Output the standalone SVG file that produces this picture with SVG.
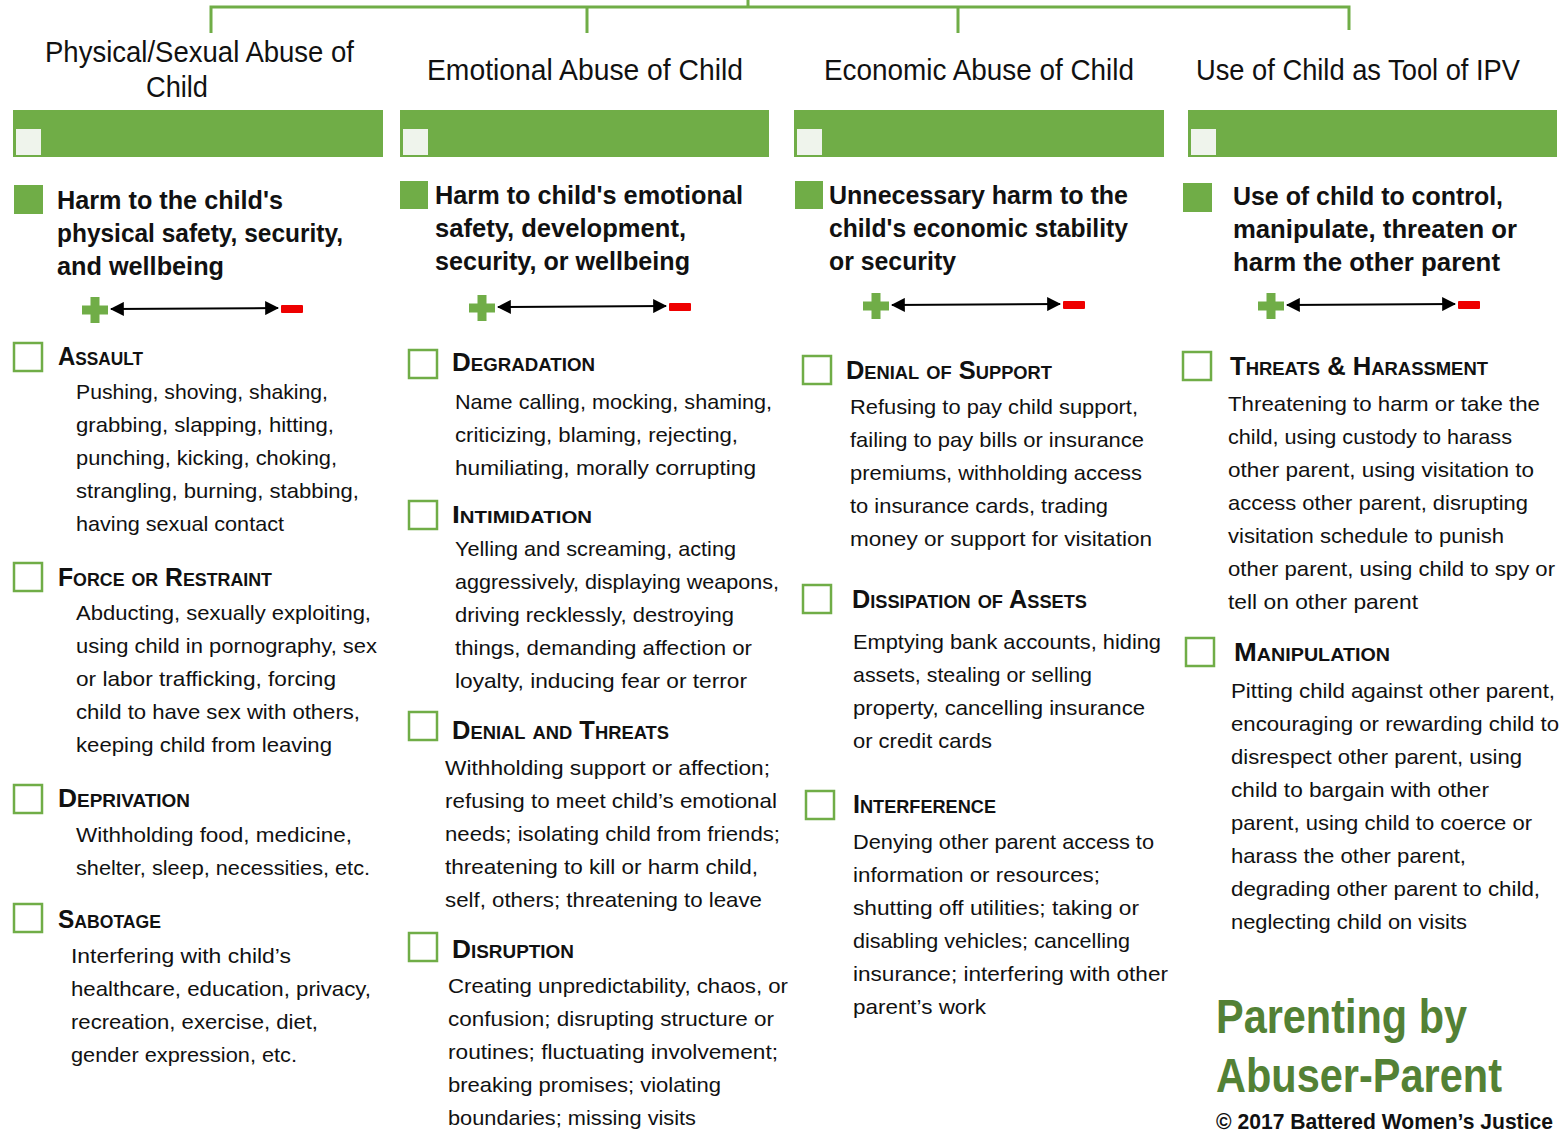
<svg xmlns="http://www.w3.org/2000/svg" width="1565" height="1131" viewBox="0 0 1565 1131">
<style>
text{font-family:"Liberation Sans",Arial,sans-serif;fill:#111}
.hd{font-size:30px}
.bar{fill:#70AD47}
.sq{fill:#EFF4EC}
.bul{fill:#70AD47}
.cb{fill:none;stroke:#70AD47;stroke-width:2.5}
.bh{font-size:26px;font-weight:bold}
.sc{font-size:25px;font-weight:bold;font-variant:small-caps}
.bd{font-size:21px}
.tree{fill:none;stroke:#70AD47;stroke-width:3}
.scale{stroke:#000;stroke-width:2}
.plus{fill:#70AD47}
.minus{fill:#EE0000}
.title{font-size:48px;font-weight:bold;fill:#538135}
.copy{font-size:22px;font-weight:bold}
</style>
<defs>
<marker id="ahb" viewBox="0 0 12 12" refX="11" refY="6" markerWidth="14" markerHeight="14" orient="auto-start-reverse" markerUnits="userSpaceOnUse">
<path d="M0,0 L12,6 L0,12 z" fill="#000"/>
</marker>
<path id="plusShape" d="M-4.5,-13 h9 v8.5 h8.5 v9 h-8.5 v8.5 h-9 v-8.5 h-8.5 v-9 h8.5 z"/>
<clipPath id="clipInt"><rect x="440" y="495" width="200" height="28"/></clipPath>
</defs>

<g id="connectors">
<path class="tree" d="M748,0 V7 M211,33 V7 H1349 V30 M587,7 V33 M958,7 V33"/>
</g>

<!-- Column 1 -->
<g id="col1-header">
<text class="hd" x="45" y="62" textLength="309" lengthAdjust="spacingAndGlyphs">Physical/Sexual Abuse of</text>
<text class="hd" x="146" y="97" textLength="62" lengthAdjust="spacingAndGlyphs">Child</text>
<rect class="bar" x="13" y="110" width="370" height="47"/>
<rect class="sq" x="16" y="129" width="25" height="26"/>
</g>
<g id="col1-title">
<rect class="bul" x="14" y="185" width="29" height="29"/>
<text class="bh" x="57" y="209" textLength="226" lengthAdjust="spacingAndGlyphs">Harm to the child's</text>
<text class="bh" x="57" y="242" textLength="286" lengthAdjust="spacingAndGlyphs">physical safety, security,</text>
<text class="bh" x="57" y="275" textLength="167" lengthAdjust="spacingAndGlyphs">and wellbeing</text>
<use href="#plusShape" class="plus" x="95" y="310"/>
<line class="scale" x1="111" y1="309" x2="278" y2="308" marker-start="url(#ahb)" marker-end="url(#ahb)"/>
<rect class="minus" x="281" y="305" width="22" height="8" rx="1"/>
</g>
<g id="col1-assault">
<rect class="cb" x="14" y="343" width="28" height="28"/>
<text class="sc" x="58" y="365" textLength="85" lengthAdjust="spacingAndGlyphs">Assault</text>
<text class="bd" x="76" y="399" textLength="252" lengthAdjust="spacingAndGlyphs">Pushing, shoving, shaking,</text>
<text class="bd" x="76" y="432" textLength="258" lengthAdjust="spacingAndGlyphs">grabbing, slapping, hitting,</text>
<text class="bd" x="76" y="465" textLength="261" lengthAdjust="spacingAndGlyphs">punching, kicking, choking,</text>
<text class="bd" x="76" y="498" textLength="283" lengthAdjust="spacingAndGlyphs">strangling, burning, stabbing,</text>
<text class="bd" x="76" y="531" textLength="208" lengthAdjust="spacingAndGlyphs">having sexual contact</text>
</g>
<g id="col1-force">
<rect class="cb" x="14" y="563" width="28" height="28"/>
<text class="sc" x="58" y="586" textLength="214" lengthAdjust="spacingAndGlyphs">Force or Restraint</text>
<text class="bd" x="76" y="620" textLength="295" lengthAdjust="spacingAndGlyphs">Abducting, sexually exploiting,</text>
<text class="bd" x="76" y="653" textLength="301" lengthAdjust="spacingAndGlyphs">using child in pornography, sex</text>
<text class="bd" x="76" y="686" textLength="260" lengthAdjust="spacingAndGlyphs">or labor trafficking, forcing</text>
<text class="bd" x="76" y="719" textLength="284" lengthAdjust="spacingAndGlyphs">child to have sex with others,</text>
<text class="bd" x="76" y="752" textLength="256" lengthAdjust="spacingAndGlyphs">keeping child from leaving</text>
</g>
<g id="col1-deprivation">
<rect class="cb" x="14" y="785" width="28" height="28"/>
<text class="sc" x="58" y="807" textLength="132" lengthAdjust="spacingAndGlyphs">Deprivation</text>
<text class="bd" x="76" y="842" textLength="276" lengthAdjust="spacingAndGlyphs">Withholding food, medicine,</text>
<text class="bd" x="76" y="875" textLength="294" lengthAdjust="spacingAndGlyphs">shelter, sleep, necessities, etc.</text>
</g>
<g id="col1-sabotage">
<rect class="cb" x="14" y="904" width="28" height="28"/>
<text class="sc" x="58" y="928" textLength="103" lengthAdjust="spacingAndGlyphs">Sabotage</text>
<text class="bd" x="71" y="963" textLength="220" lengthAdjust="spacingAndGlyphs">Interfering with child’s</text>
<text class="bd" x="71" y="996" textLength="300" lengthAdjust="spacingAndGlyphs">healthcare, education, privacy,</text>
<text class="bd" x="71" y="1029" textLength="247" lengthAdjust="spacingAndGlyphs">recreation, exercise, diet,</text>
<text class="bd" x="71" y="1062" textLength="226" lengthAdjust="spacingAndGlyphs">gender expression, etc.</text>
</g>

<!-- Column 2 -->
<g id="col2-header">
<text class="hd" x="427" y="80" textLength="316" lengthAdjust="spacingAndGlyphs">Emotional Abuse of Child</text>
<rect class="bar" x="400" y="110" width="369" height="47"/>
<rect class="sq" x="403" y="129" width="25" height="26"/>
</g>
<g id="col2-title">
<rect class="bul" x="400" y="181" width="28" height="28"/>
<text class="bh" x="435" y="204" textLength="308" lengthAdjust="spacingAndGlyphs">Harm to child's emotional</text>
<text class="bh" x="435" y="237" textLength="251" lengthAdjust="spacingAndGlyphs">safety, development,</text>
<text class="bh" x="435" y="270" textLength="255" lengthAdjust="spacingAndGlyphs">security, or wellbeing</text>
<use href="#plusShape" class="plus" x="482" y="308"/>
<line class="scale" x1="498" y1="307" x2="666" y2="306" marker-start="url(#ahb)" marker-end="url(#ahb)"/>
<rect class="minus" x="669" y="303" width="22" height="8" rx="1"/>
</g>
<g id="col2-degradation">
<rect class="cb" x="409" y="350" width="28" height="28"/>
<text class="sc" x="452" y="371" textLength="143" lengthAdjust="spacingAndGlyphs">Degradation</text>
<text class="bd" x="455" y="409" textLength="317" lengthAdjust="spacingAndGlyphs">Name calling, mocking, shaming,</text>
<text class="bd" x="455" y="442" textLength="283" lengthAdjust="spacingAndGlyphs">criticizing, blaming, rejecting,</text>
<text class="bd" x="455" y="475" textLength="301" lengthAdjust="spacingAndGlyphs">humiliating, morally corrupting</text>
</g>
<g id="col2-intimidation">
<rect class="cb" x="409" y="501" width="28" height="28"/>
<text class="sc" x="452" y="524" textLength="140" lengthAdjust="spacingAndGlyphs" clip-path="url(#clipInt)">Intimidation</text>
<text class="bd" x="455" y="556" textLength="281" lengthAdjust="spacingAndGlyphs">Yelling and screaming, acting</text>
<text class="bd" x="455" y="589" textLength="324" lengthAdjust="spacingAndGlyphs">aggressively, displaying weapons,</text>
<text class="bd" x="455" y="622" textLength="279" lengthAdjust="spacingAndGlyphs">driving recklessly, destroying</text>
<text class="bd" x="455" y="655" textLength="297" lengthAdjust="spacingAndGlyphs">things, demanding affection or</text>
<text class="bd" x="455" y="688" textLength="292" lengthAdjust="spacingAndGlyphs">loyalty, inducing fear or terror</text>
</g>
<g id="col2-denial">
<rect class="cb" x="409" y="712" width="28" height="28"/>
<text class="sc" x="452" y="739" textLength="217" lengthAdjust="spacingAndGlyphs">Denial and Threats</text>
<text class="bd" x="445" y="775" textLength="325" lengthAdjust="spacingAndGlyphs">Withholding support or affection;</text>
<text class="bd" x="445" y="808" textLength="332" lengthAdjust="spacingAndGlyphs">refusing to meet child’s emotional</text>
<text class="bd" x="445" y="841" textLength="335" lengthAdjust="spacingAndGlyphs">needs; isolating child from friends;</text>
<text class="bd" x="445" y="874" textLength="313" lengthAdjust="spacingAndGlyphs">threatening to kill or harm child,</text>
<text class="bd" x="445" y="907" textLength="317" lengthAdjust="spacingAndGlyphs">self, others; threatening to leave</text>
</g>
<g id="col2-disruption">
<rect class="cb" x="409" y="933" width="28" height="28"/>
<text class="sc" x="452" y="958" textLength="122" lengthAdjust="spacingAndGlyphs">Disruption</text>
<text class="bd" x="448" y="993" textLength="340" lengthAdjust="spacingAndGlyphs">Creating unpredictability, chaos, or</text>
<text class="bd" x="448" y="1026" textLength="326" lengthAdjust="spacingAndGlyphs">confusion; disrupting structure or</text>
<text class="bd" x="448" y="1059" textLength="330" lengthAdjust="spacingAndGlyphs">routines; fluctuating involvement;</text>
<text class="bd" x="448" y="1092" textLength="273" lengthAdjust="spacingAndGlyphs">breaking promises; violating</text>
<text class="bd" x="448" y="1125" textLength="248" lengthAdjust="spacingAndGlyphs">boundaries; missing visits</text>
</g>

<!-- Column 3 -->
<g id="col3-header">
<text class="hd" x="824" y="80" textLength="310" lengthAdjust="spacingAndGlyphs">Economic Abuse of Child</text>
<rect class="bar" x="794" y="110" width="370" height="47"/>
<rect class="sq" x="797" y="129" width="25" height="26"/>
</g>
<g id="col3-title">
<rect class="bul" x="795" y="181" width="28" height="28"/>
<text class="bh" x="829" y="204" textLength="299" lengthAdjust="spacingAndGlyphs">Unnecessary harm to the</text>
<text class="bh" x="829" y="237" textLength="299" lengthAdjust="spacingAndGlyphs">child's economic stability</text>
<text class="bh" x="829" y="270" textLength="127" lengthAdjust="spacingAndGlyphs">or security</text>
<use href="#plusShape" class="plus" x="876" y="306"/>
<line class="scale" x1="892" y1="305" x2="1060" y2="304" marker-start="url(#ahb)" marker-end="url(#ahb)"/>
<rect class="minus" x="1063" y="301" width="22" height="8" rx="1"/>
</g>
<g id="col3-support">
<rect class="cb" x="803" y="356" width="28" height="28"/>
<text class="sc" x="846" y="379" textLength="206" lengthAdjust="spacingAndGlyphs">Denial of Support</text>
<text class="bd" x="850" y="414" textLength="288" lengthAdjust="spacingAndGlyphs">Refusing to pay child support,</text>
<text class="bd" x="850" y="447" textLength="294" lengthAdjust="spacingAndGlyphs">failing to pay bills or insurance</text>
<text class="bd" x="850" y="480" textLength="292" lengthAdjust="spacingAndGlyphs">premiums, withholding access</text>
<text class="bd" x="850" y="513" textLength="258" lengthAdjust="spacingAndGlyphs">to insurance cards, trading</text>
<text class="bd" x="850" y="546" textLength="302" lengthAdjust="spacingAndGlyphs">money or support for visitation</text>
</g>
<g id="col3-assets">
<rect class="cb" x="803" y="585" width="28" height="28"/>
<text class="sc" x="852" y="608" textLength="235" lengthAdjust="spacingAndGlyphs">Dissipation of Assets</text>
<text class="bd" x="853" y="649" textLength="308" lengthAdjust="spacingAndGlyphs">Emptying bank accounts, hiding</text>
<text class="bd" x="853" y="682" textLength="239" lengthAdjust="spacingAndGlyphs">assets, stealing or selling</text>
<text class="bd" x="853" y="715" textLength="292" lengthAdjust="spacingAndGlyphs">property, cancelling insurance</text>
<text class="bd" x="853" y="748" textLength="139" lengthAdjust="spacingAndGlyphs">or credit cards</text>
</g>
<g id="col3-interference">
<rect class="cb" x="806" y="791" width="28" height="28"/>
<text class="sc" x="853" y="813" textLength="143" lengthAdjust="spacingAndGlyphs">Interference</text>
<text class="bd" x="853" y="849" textLength="301" lengthAdjust="spacingAndGlyphs">Denying other parent access to</text>
<text class="bd" x="853" y="882" textLength="247" lengthAdjust="spacingAndGlyphs">information or resources;</text>
<text class="bd" x="853" y="915" textLength="286" lengthAdjust="spacingAndGlyphs">shutting off utilities; taking or</text>
<text class="bd" x="853" y="948" textLength="277" lengthAdjust="spacingAndGlyphs">disabling vehicles; cancelling</text>
<text class="bd" x="853" y="981" textLength="315" lengthAdjust="spacingAndGlyphs">insurance; interfering with other</text>
<text class="bd" x="853" y="1014" textLength="133" lengthAdjust="spacingAndGlyphs">parent’s work</text>
</g>

<!-- Column 4 -->
<g id="col4-header">
<text class="hd" x="1196" y="80" textLength="324" lengthAdjust="spacingAndGlyphs">Use of Child as Tool of IPV</text>
<rect class="bar" x="1188" y="110" width="369" height="47"/>
<rect class="sq" x="1191" y="129" width="25" height="26"/>
</g>
<g id="col4-title">
<rect class="bul" x="1183" y="183" width="29" height="29"/>
<text class="bh" x="1233" y="205" textLength="270" lengthAdjust="spacingAndGlyphs">Use of child to control,</text>
<text class="bh" x="1233" y="238" textLength="284" lengthAdjust="spacingAndGlyphs">manipulate, threaten or</text>
<text class="bh" x="1233" y="271" textLength="267" lengthAdjust="spacingAndGlyphs">harm the other parent</text>
<use href="#plusShape" class="plus" x="1271" y="306"/>
<line class="scale" x1="1287" y1="305" x2="1455" y2="304" marker-start="url(#ahb)" marker-end="url(#ahb)"/>
<rect class="minus" x="1458" y="301" width="22" height="8" rx="1"/>
</g>
<g id="col4-threats">
<rect class="cb" x="1183" y="352" width="28" height="28"/>
<text class="sc" x="1230" y="375" textLength="258" lengthAdjust="spacingAndGlyphs">Threats &amp; Harassment</text>
<text class="bd" x="1228" y="411" textLength="312" lengthAdjust="spacingAndGlyphs">Threatening to harm or take the</text>
<text class="bd" x="1228" y="444" textLength="284" lengthAdjust="spacingAndGlyphs">child, using custody to harass</text>
<text class="bd" x="1228" y="477" textLength="306" lengthAdjust="spacingAndGlyphs">other parent, using visitation to</text>
<text class="bd" x="1228" y="510" textLength="300" lengthAdjust="spacingAndGlyphs">access other parent, disrupting</text>
<text class="bd" x="1228" y="543" textLength="276" lengthAdjust="spacingAndGlyphs">visitation schedule to punish</text>
<text class="bd" x="1228" y="576" textLength="327" lengthAdjust="spacingAndGlyphs">other parent, using child to spy or</text>
<text class="bd" x="1228" y="609" textLength="190" lengthAdjust="spacingAndGlyphs">tell on other parent</text>
</g>
<g id="col4-manipulation">
<rect class="cb" x="1186" y="638" width="28" height="28"/>
<text class="sc" x="1234" y="661" textLength="156" lengthAdjust="spacingAndGlyphs">Manipulation</text>
<text class="bd" x="1231" y="698" textLength="324" lengthAdjust="spacingAndGlyphs">Pitting child against other parent,</text>
<text class="bd" x="1231" y="731" textLength="328" lengthAdjust="spacingAndGlyphs">encouraging or rewarding child to</text>
<text class="bd" x="1231" y="764" textLength="291" lengthAdjust="spacingAndGlyphs">disrespect other parent, using</text>
<text class="bd" x="1231" y="797" textLength="258" lengthAdjust="spacingAndGlyphs">child to bargain with other</text>
<text class="bd" x="1231" y="830" textLength="301" lengthAdjust="spacingAndGlyphs">parent, using child to coerce or</text>
<text class="bd" x="1231" y="863" textLength="235" lengthAdjust="spacingAndGlyphs">harass the other parent,</text>
<text class="bd" x="1231" y="896" textLength="309" lengthAdjust="spacingAndGlyphs">degrading other parent to child,</text>
<text class="bd" x="1231" y="929" textLength="236" lengthAdjust="spacingAndGlyphs">neglecting child on visits</text>
</g>

<g id="title">
<text class="title" x="1216" y="1033" textLength="251" lengthAdjust="spacingAndGlyphs">Parenting by</text>
<text class="title" x="1216" y="1092" textLength="286" lengthAdjust="spacingAndGlyphs">Abuser-Parent</text>
<text class="copy" x="1216" y="1129" textLength="337" lengthAdjust="spacingAndGlyphs">© 2017 Battered Women’s Justice</text>
</g>
</svg>
